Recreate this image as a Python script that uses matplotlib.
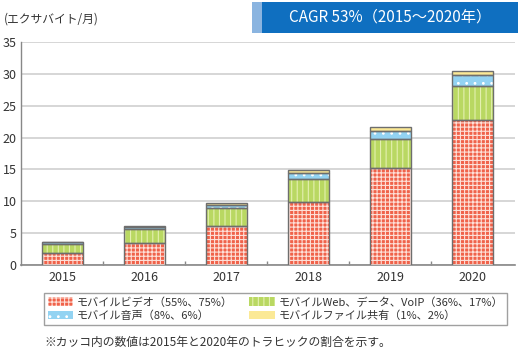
import matplotlib
matplotlib.use("Agg")
import matplotlib.pyplot as plt
from matplotlib.patches import Rectangle, Patch
import numpy as np

plt.rcParams['font.family'] = ['Noto Sans CJK JP', 'DejaVu Sans']

years = ["2015", "2016", "2017", "2018", "2019", "2020"]
video = [1.95, 3.5, 6.1, 9.9, 15.2, 22.8]
web = [1.35, 2.1, 2.9, 3.55, 4.6, 5.25]
voice = [0.25, 0.35, 0.5, 0.95, 1.2, 1.75]
files = [0.1, 0.15, 0.3, 0.5, 0.7, 0.7]

labels = ["モバイルビデオ（55%、75%）", "モバイルWeb、データ、VoIP（36%、17%）",
          "モバイル音声（8%、6%）", "モバイルファイル共有（1%、2%）"]
ylabel = "(エクサバイト/月)"
cagr = "CAGR 53%（2015～2020年）"
note = "※カッコ内の数値は2015年と2020年のトラヒックの割合を示す。"

series = [video, web, voice, files]
faces = ['#f0624a', '#b9d862', '#93d3f2', '#fbe996']
hatchcols = ['#fde0d8', '#e4f0b0', '#ffffff', '#fbe996']
hatches = ['++++', '|||', '..', '']

txt = '#333333'
fig = plt.figure(figsize=(5.21, 3.51), dpi=100)
ax = fig.add_axes([0.0403, 0.245, 0.948, 0.635])

x = np.arange(len(years))
w = 0.5
bottom = np.zeros(len(years))
plt.rcParams['hatch.linewidth'] = 0.8
for vals, fc, hc, h in zip(series, faces, hatchcols, hatches):
    vals = np.array(vals)
    ax.bar(x, vals, w, bottom=bottom, color=fc, edgecolor=hc, hatch=h, linewidth=0, zorder=3)
    ax.bar(x, vals, w, bottom=bottom, fill=False, edgecolor='#6e6e6e', linewidth=1.0, zorder=4)
    bottom += vals

ax.set_ylim(0, 35)
ax.set_xlim(-0.5, 5.52)
ax.set_yticks(range(0, 36, 5))
ax.set_xticks(x)
ax.set_xticklabels(years)
ax.set_xticks(np.arange(0.5, 5, 1), minor=True)
ax.tick_params(axis='x', which='major', length=0, labelsize=9, colors=txt, pad=4)
ax.tick_params(axis='x', which='minor', length=3, direction='in', color='#888888', width=1)
ax.tick_params(axis='y', length=0, labelsize=9, colors=txt, pad=3)
ax.grid(axis='y', color='#cfcfcf', linewidth=1.2, zorder=0)
for s in ['top', 'right']:
    ax.spines[s].set_visible(False)
ax.spines['left'].set_color('#888888')
ax.spines['bottom'].set_color('#888888')
ax.spines['left'].set_linewidth(1.0)
ax.spines['bottom'].set_linewidth(1.2)

fig.text(0.008, 0.945, ylabel, fontsize=8.5, color=txt, va='center', ha='left')

# CAGR box
fig.patches.append(Rectangle((252/521, 1-33/351), 10/521, 31/351, transform=fig.transFigure,
                             facecolor='#8ab4e0', edgecolor='none'))
fig.patches.append(Rectangle((262/521, 1-33/351), 256/521, 31/351, transform=fig.transFigure,
                             facecolor='#0f6fc0', edgecolor='none'))
fig.text(390/521, 1-17.5/351, cagr, fontsize=11, color='white', ha='center', va='center')

handles = [Patch(facecolor=fc, edgecolor=hc, hatch=h, linewidth=0) for fc, hc, h in zip(faces, hatchcols, hatches)]
order = [0, 2, 1, 3]
leg = fig.legend([handles[i] for i in order], [labels[i] for i in order], ncol=2,
                 loc='upper left', bbox_to_anchor=(44/521, 1-293/351),
                 fontsize=8.0, frameon=True, fancybox=False, edgecolor='#888888',
                 handlelength=2.3, handleheight=0.8, handletextpad=0.3, columnspacing=1.5,
                 labelspacing=0.25, borderpad=0.35, borderaxespad=0)
leg.get_frame().set_linewidth(1.0)
for t in leg.get_texts():
    t.set_color(txt)

fig.text(44/521, 1-342/351, note, fontsize=8.5, color=txt, va='center', ha='left')

fig.savefig("out.png", dpi=100, facecolor='white')
